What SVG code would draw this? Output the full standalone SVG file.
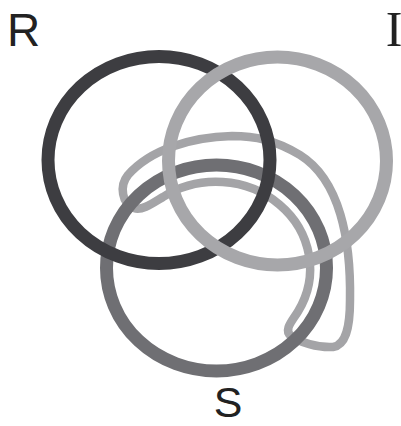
<svg xmlns="http://www.w3.org/2000/svg" width="401" height="426" viewBox="0 0 401 426">
<style>
.ring{fill:none}
.lbl{font-family:"Liberation Sans",Arial,sans-serif;fill:#222}
</style>
<rect width="401" height="426" fill="#fff"/>
<g id="sinthome">
<path class="ring" stroke="#a4a4a7" stroke-width="8.5" stroke-linejoin="round" d="M163,197 A94,87 0 0 1 298,311.5 C293,320 283,330 291,336 C299,342 318,348 333,347 C345,345 350,330 350,300 C351,240 340,180 300,155 C275,140 255,136 232,136 C190,137 150,150 128,175 C119,186 122,204 134,208 C142,211 153,203 163,197 Z"/>
</g>
<g id="S">
<ellipse class="ring" cx="216.5" cy="268" rx="110" ry="103" stroke="#6f6f73" stroke-width="13"/>
</g>
<g id="R">
<ellipse class="ring" cx="159" cy="160" rx="111" ry="103.5" stroke="#3d3d41" stroke-width="13"/>
</g>
<g id="I">
<ellipse class="ring" cx="277.5" cy="161" rx="109" ry="104" stroke="#a7a7aa" stroke-width="13"/>
</g>
<g id="labels">
<text class="lbl" x="7" y="46" font-size="46">R</text>
<text x="394" y="46" font-size="50" text-anchor="middle" style="font-family:'Liberation Serif','Times New Roman',serif;fill:#222">I</text>
<text class="lbl" x="228" y="417" font-size="43" text-anchor="middle">S</text>
</g>
</svg>
